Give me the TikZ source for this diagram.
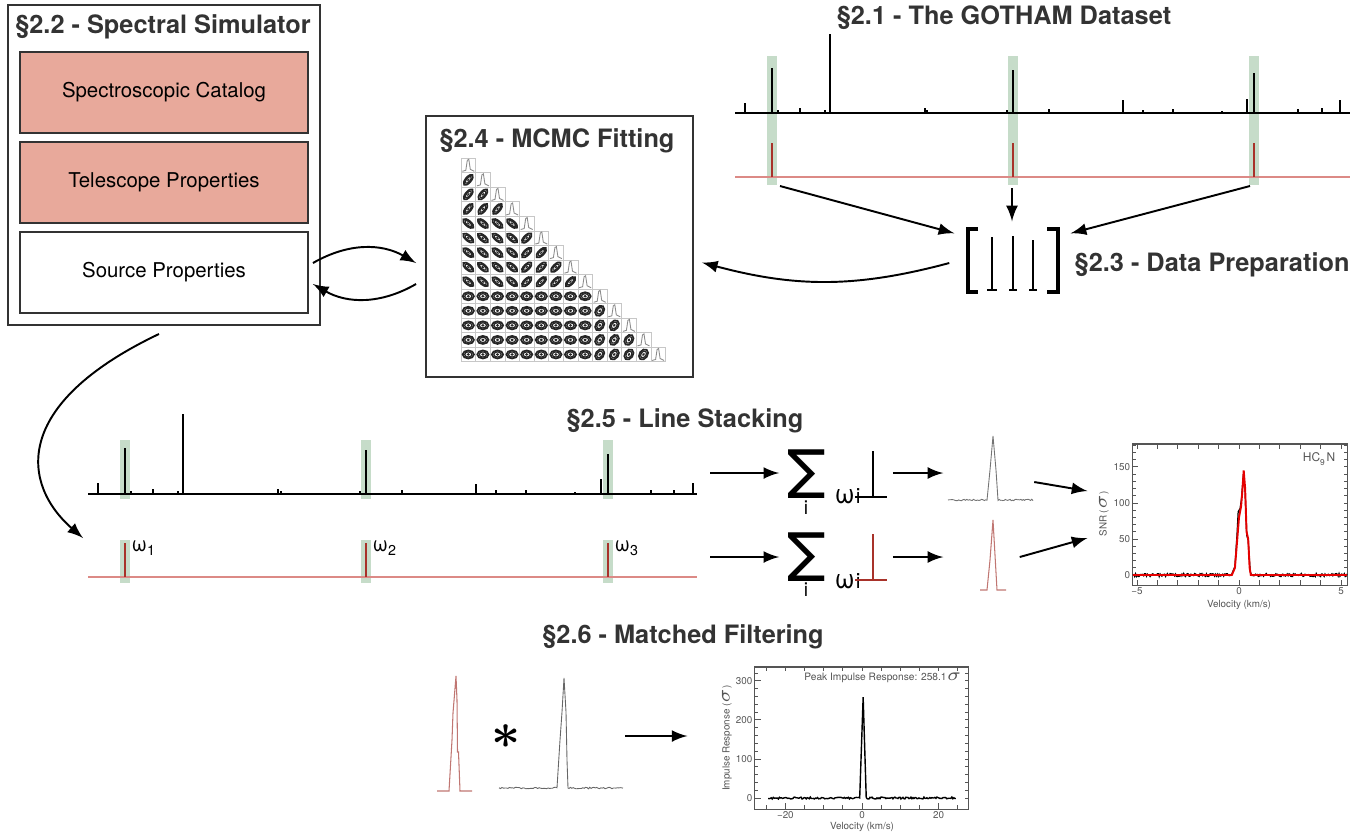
\documentclass[tikz,border=0pt]{standalone}
\usepackage{fontspec}
\setmainfont{TeX Gyre Heros}
\usetikzlibrary{arrows.meta,calc,positioning}
\tikzset{>=latex}
\definecolor{catfill}{HTML}{E8A99B}
\definecolor{bandgreen}{HTML}{C6DCC9}
\definecolor{headgray}{HTML}{333333}
\definecolor{linered}{HTML}{A8322A}
\definecolor{basered}{HTML}{DC8A86}
\definecolor{axisgray}{HTML}{555555}
\definecolor{profred}{HTML}{C07672}
\tikzset{
  head/.style={font=\fontsize{7.2}{8.5}\selectfont\bfseries, text=headgray, inner sep=0pt},
  simbox/.style={draw=black!80, line width=0.5pt, minimum width=2.88cm, minimum height=0.81cm,
    font=\fontsize{5.8}{7}\selectfont},
  band/.style={fill=bandgreen},
  specline/.style={line width=0.4pt},
  peakline/.style={line width=0.7pt},
  redline/.style={linered, line width=0.5pt},
  flow/.style={->, line width=0.55pt},
  cornerbox/.style={draw=black!22, line width=0.15pt},
  contour/.style={draw=black!85, line width=0.5pt},
  histline/.style={draw=black!45, line width=0.25pt},
  plotframe/.style={draw=axisgray, line width=0.3pt, inner sep=0pt},
  axisline/.style={draw=axisgray, line width=0.25pt},
  ticklab/.style={font=\fontsize{2.8}{3.2}\selectfont, text=axisgray, inner sep=0.6pt},
  sumsign/.style={font=\fontsize{19}{19}\selectfont, inner sep=0pt},
  sumidx/.style={font=\fontsize{5.5}{6}\selectfont, inner sep=0pt},
  weight/.style={font=\fontsize{7.6}{8}\selectfont, inner sep=0pt, anchor=base west},
  barbox/.style={inner sep=0pt, minimum width=0.1cm, minimum height=0.44cm},
}
\begin{document}
\begin{tikzpicture}[x=0.01cm, y=-0.01cm]
\useasboundingbox (0,0) rectangle (1372,835);

% spectral simulator
\node[draw=black!80, line width=0.5pt, minimum width=3.12cm, minimum height=3.2cm] (sim) at (164,165) {};
\node[head] (simtitle) at (163,27) {§2.2 - Spectral Simulator};
\node[simbox, fill=catfill] (cat) at (164,92.5) {Spectroscopic Catalog};
\node[simbox, fill=catfill] (tel) at (164,182.5) {Telescope Properties};
\node[simbox] (src) at (164,272.5) {Source Properties};

% MCMC fitting
\node[draw=black!80, line width=0.5pt, minimum width=2.67cm, minimum height=2.61cm] (mcmc) at (559.5,246.5) {};
\node[head] (mcmctitle) at (557,141) {§2.4 - MCMC Fitting};
\foreach \i in {0,...,13}{
  \foreach \j in {0,...,\i}{
    \pgfmathsetmacro\cx{461+14.6*\j+7.3}
    \pgfmathsetmacro\cy{158+14.55*\i+7.3}
    \draw[cornerbox] (\cx-7.3,\cy-7.3) rectangle ++(14.6,14.55);
    \ifnum\i=\j
      \draw[histline] (\cx-6,\cy+6) -- (\cx-2.5,\cy+5) -- (\cx-1,\cy-5) -- (\cx+0.5,\cy-6) -- (\cx+2,\cy+4) -- (\cx+6,\cy+6);
    \else
      \pgfmathsetmacro\ang{\i>8 ? (\j>8 ? 55 : 0) : (\i<4 ? 50 : (\j<4 ? -40 : 45))}
      \pgfmathsetmacro\rx{\i>8 ? 5.6 : 6.4}
      \pgfmathsetmacro\ry{\i>8 ? 4.0 : 2.8}
      \draw[contour] (\cx,\cy) ellipse [x radius=\rx, y radius=\ry, rotate=\ang];
      \draw[contour, line width=0.35pt] (\cx,\cy) ellipse [x radius=\rx*0.65, y radius=\ry*0.65, rotate=\ang];
      \fill[black!85] (\cx,\cy) ellipse [x radius=\rx*0.3, y radius=\ry*0.35, rotate=\ang];
    \fi
  }
}

% GOTHAM dataset
\node[head] (gotitle) at (1004,18) {§2.1 - The GOTHAM Dataset};
\foreach \xb in {772,1013,1254} \fill[band] (\xb-5,56) rectangle (\xb+5,185);
\draw[line width=0.5pt] (735,113) -- (1350,113);
\foreach \xs/\ys in {745/103,778/110,800/108,825/110,925/108,927/110,1007/110,1049/109,1123/100,
  1143/110,1173/109,1222/111,1247/99,1298/109,1322/108,1340/100}
  \draw[specline] (\xs,113) -- (\xs,\ys);
\foreach \xs/\ys in {772/68,1013/70,1254/73} \draw[peakline] (\xs,113) -- (\xs,\ys);
\draw[line width=0.3pt] (830,113) -- (830,34);
\draw[basered, line width=0.4pt] (735,177) -- (1350,177);
\foreach \xs in {772,1013,1254} \draw[redline] (\xs,177) -- (\xs,143);
\coordinate (gotA) at (780,186);
\coordinate (gotB) at (1012,188);
\coordinate (gotC) at (1250,186);

% data preparation
\node[minimum width=1.15cm, minimum height=0.68cm, inner sep=0pt] (prep) at (1012.5,260) {};
\draw[line width=0.9pt] (978,229) -- (968,229) -- (968,292) -- (978,292);
\draw[line width=0.9pt] (1047,229) -- (1058,229) -- (1058,292) -- (1047,292);
\draw[line width=0.8pt] (992,237) -- (992,290) (987,290) -- (997,290);
\draw[line width=0.4pt] (1013,236) -- (1013,290) (1009,290) -- (1017,290);
\draw[line width=0.4pt] (1033,240) -- (1033,290) (1029,290) -- (1037,290);
\node[head, anchor=west] (preptitle) at (1074,265) {§2.3 - Data Preparation};

\draw[flow] (gotA) -- ([shift={(0,8)}]prep.north west);
\draw[flow] (gotB) -- ([shift={(-0.5,-4)}]prep.north);
\draw[flow] (gotC) -- ([shift={(0,8)}]prep.north east);
\draw[flow] ([shift={(-5,3)}]prep.west) to[out=195, in=-15] ([shift={(8,16)}]mcmc.east);
\draw[flow] ([shift={(4,-9.5)}]src.east) to[out=30, in=150] ([shift={(-9,16.5)}]mcmc.west);
\draw[flow] ([shift={(-9,37.5)}]mcmc.west) to[out=210, in=-30] ([shift={(4,11.5)}]src.east);

% line stacking
\node[head] (stacktitle) at (685,421) {§2.5 - Line Stacking};
\foreach \xb in {125,366,608} {
  \fill[band] (\xb-5,440) rectangle (\xb+5,499);
  \fill[band] (\xb-5,540) rectangle (\xb+5,583);
}
\draw[line width=0.5pt] (88,494) -- (697,494);
\foreach \xs/\ys in {98/483,131/491,153/489,178/491,278/489,281/491,360/491,402/490,476/484,
  496/490,526/490,575/492,601/479,651/490,674/490,693/483}
  \draw[specline] (\xs,494) -- (\xs,\ys);
\foreach \xs/\ys in {125/448,366/450,608/454} \draw[peakline] (\xs,494) -- (\xs,\ys);
\draw[line width=0.3pt] (183,494) -- (183,414);
\draw[basered, line width=0.4pt] (88,577) -- (697,577);
\foreach \xs/\n in {125/1,366/2,608/3} {
  \draw[redline] (\xs,577) -- (\xs,543);
  \node[font=\fontsize{5.8}{6}\selectfont, inner sep=0pt, anchor=west] (w\n) at (\xs+6,548) {ω\textsubscript{\n}};
}
\coordinate (redpanel) at (83,538);
\draw[flow] ([shift={(-5,8)}]sim.south) .. controls (10,405) and (22,485) .. (redpanel);

\coordinate (stackA) at (710,473);
\coordinate (stackB) at (710,557);
\node[sumsign] (sumA) at (807,474) {Σ};
\node[sumidx] (idxA) at (806,508) {i};
\node[weight] (omA) at (834,503) {ω\kern0.3pt{\fontsize{6}{6}\selectfont i}};
\node[sumsign] (sumB) at (807,557) {Σ};
\node[sumidx] (idxB) at (806,590) {i};
\node[weight] (omB) at (834,588) {ω\kern0.3pt{\fontsize{6}{6}\selectfont i}};
\node[barbox] (barA) at (873,474) {};
\node[barbox] (barB) at (873,557) {};
\draw[line width=0.5pt] (barA.north) -- (barA.south) ([xshift=-5]barA.south) -- ([xshift=4]barA.south);
\draw[linered, line width=0.5pt] (barB.north) -- (barB.south) ([xshift=-5]barB.south) -- ([xshift=4]barB.south);
\draw[flow] (stackA) -- ([xshift=-2pt]sumA.west |- stackA);
\draw[flow] (stackB) -- ([xshift=-2pt]sumB.west |- stackB);

% stacked profiles
\pgfmathsetseed{11}
\node[inner sep=0pt, minimum width=0.85cm, minimum height=0.64cm] (profA) at (990,468) {};
\node[inner sep=0pt, minimum width=0.26cm, minimum height=0.7cm] (profB) at (993,555) {};
\draw[black!55, line width=0.25pt] plot[domain=948:987, samples=30] (\x,{500+0.8*rand})
  -- (990,470) -- (993,436) -- (996,470) -- (998,500) -- plot[domain=998:1033, samples=30] (\x,{500+0.8*rand});
\draw[profred, line width=0.3pt] (980,590) -- (987,590) -- (990,560) -- (993,520) -- (995,555) -- (997,590) -- (1006,590);
\draw[flow] ([xshift=4pt]barA.east |- stackA) -- ([xshift=-1pt]profA.west |- stackA);
\draw[flow] ([xshift=4pt]barB.east |- stackB) -- ([xshift=-1pt]profA.west |- stackB);

% stacked SNR plot
\node[plotframe, minimum width=2.14cm, minimum height=1.41cm] (snr) at (1240,514.5) {};
\draw[flow] ([shift={(1,14)}]profA.east) -- ([shift={(-45,-23.5)}]snr.west);
\draw[flow] ([shift={(13,2)}]profB.east) -- ([shift={(-45,23.5)}]snr.west);
\begin{scope}[shift={(1239,575)}, x=0.204cm, y=0.0072cm]
  \foreach \v in {-5,...,5} {
    \draw[axisline] (\v,-13.9) -- ++(0,1.4pt);
    \draw[axisline] (\v,182) -- ++(0,-1.4pt);
  }
  \foreach \s in {0,10,...,180} {
    \draw[axisline] (-5.2,\s) -- ++(0.9pt,0);
    \draw[axisline] (5.29,\s) -- ++(-0.9pt,0);
  }
  \foreach \s in {0,50,...,150} \draw[axisline] (-5.2,\s) -- ++(1.6pt,0);
  \foreach \v/\t in {-5/−5,0/0,5/5} \node[ticklab, anchor=north] at (\v,-13.9) {\t};
  \foreach \s in {0,50,100,150} \node[ticklab, anchor=east] at (-5.2,\s) {\s};
  \draw[black, line width=0.35pt] plot[domain=-5.2:-0.35, samples=110] (\x,{2.2*rand})
    -- (-0.2,12) -- (-0.1,55) -- (-0.04,88) -- (0.05,92) -- (0.12,105) -- (0.22,140) -- (0.3,115)
    -- (0.38,55) -- (0.45,48) -- (0.55,5) -- plot[domain=0.6:5.29, samples=110] (\x,{2.2*rand});
  \draw[red!90!black, line width=0.55pt] (-5.2,0) -- (-0.35,0) -- (-0.2,10) -- (-0.1,45) -- (0,80)
    -- (0.1,95) -- (0.16,115) -- (0.23,145) -- (0.3,120) -- (0.37,60) -- (0.45,50) -- (0.52,10)
    -- (0.58,0) -- (5.29,0);
\end{scope}
\node[ticklab, anchor=east, font=\fontsize{3.4}{4}\selectfont] (hcn) at (1338,459) {HC\textsubscript{9}N};
\node[ticklab, rotate=90] (snrlab) at (1104,514) {SNR ($\sigma$)};
\node[ticklab] (snrvel) at (1239,605) {Velocity (km/s)};

% matched filtering
\node[head] (mftitle) at (683,637) {§2.6 - Matched Filtering};
\draw[profred, line width=0.3pt] (437,791) -- (449,791) -- (452,740) -- (453,713) -- (456,676)
  -- (457,700) -- (457.5,752) -- (458.5,752) -- (460,791) -- (472,791);
\node[font=\fontsize{15}{15}\selectfont\boldmath, inner sep=0pt] (conv) at (506,737) {$\ast$};
\draw[black!60, line width=0.25pt] plot[domain=499:557, samples=40] (\x,{788+0.8*rand})
  -- (560,740) -- (562,712) -- (564,678) -- (566,712) -- (567,760) -- (568,788)
  -- plot[domain=569:623, samples=40] (\x,{788+0.8*rand});
\coordinate (mfout) at (625,736);

% impulse response plot
\node[plotframe, minimum width=2.13cm, minimum height=1.42cm] (imp) at (861.5,738) {};
\draw[flow] (mfout) -- ([shift={(-67,-2)}]imp.west);
\begin{scope}[shift={(862,798)}, x=0.0383cm, y=0.0039cm]
  \foreach \v in {-25,-20,...,25} {
    \draw[axisline] (\v,-28) -- ++(0,1.2pt);
    \draw[axisline] (\v,336) -- ++(0,-1.2pt);
  }
  \foreach \v in {-20,0,20} \draw[axisline] (\v,-28) -- ++(0,1.8pt);
  \foreach \s in {0,20,...,320} {
    \draw[axisline] (-27.9,\s) -- ++(0.9pt,0);
    \draw[axisline] (27.7,\s) -- ++(-0.9pt,0);
  }
  \foreach \s in {0,100,200,300} \draw[axisline] (-27.9,\s) -- ++(1.6pt,0);
  \foreach \v/\t in {-20/−20,0/0,20/20} \node[ticklab, anchor=north] at (\v,-28) {\t};
  \foreach \s in {0,100,200,300} \node[ticklab, anchor=east] at (-27.9,\s) {\s};
  \draw[black, line width=0.4pt] plot[domain=-24.5:-0.6, samples=90] (\x,{2.5*rand})
    -- (0.3,258) -- (1.1,2) -- plot[domain=1.3:24.5, samples=90] (\x,{2.5*rand});
\end{scope}
\node[ticklab, font=\fontsize{2.9}{3.5}\selectfont] (peaklab) at (883,678) {Peak Impulse Response: 258.1$\sigma$};
\node[ticklab, rotate=90] (implab) at (727,738) {Impulse Response ($\sigma$)};
\node[ticklab] (impvel) at (862,827) {Velocity (km/s)};
\end{tikzpicture}
\end{document}
